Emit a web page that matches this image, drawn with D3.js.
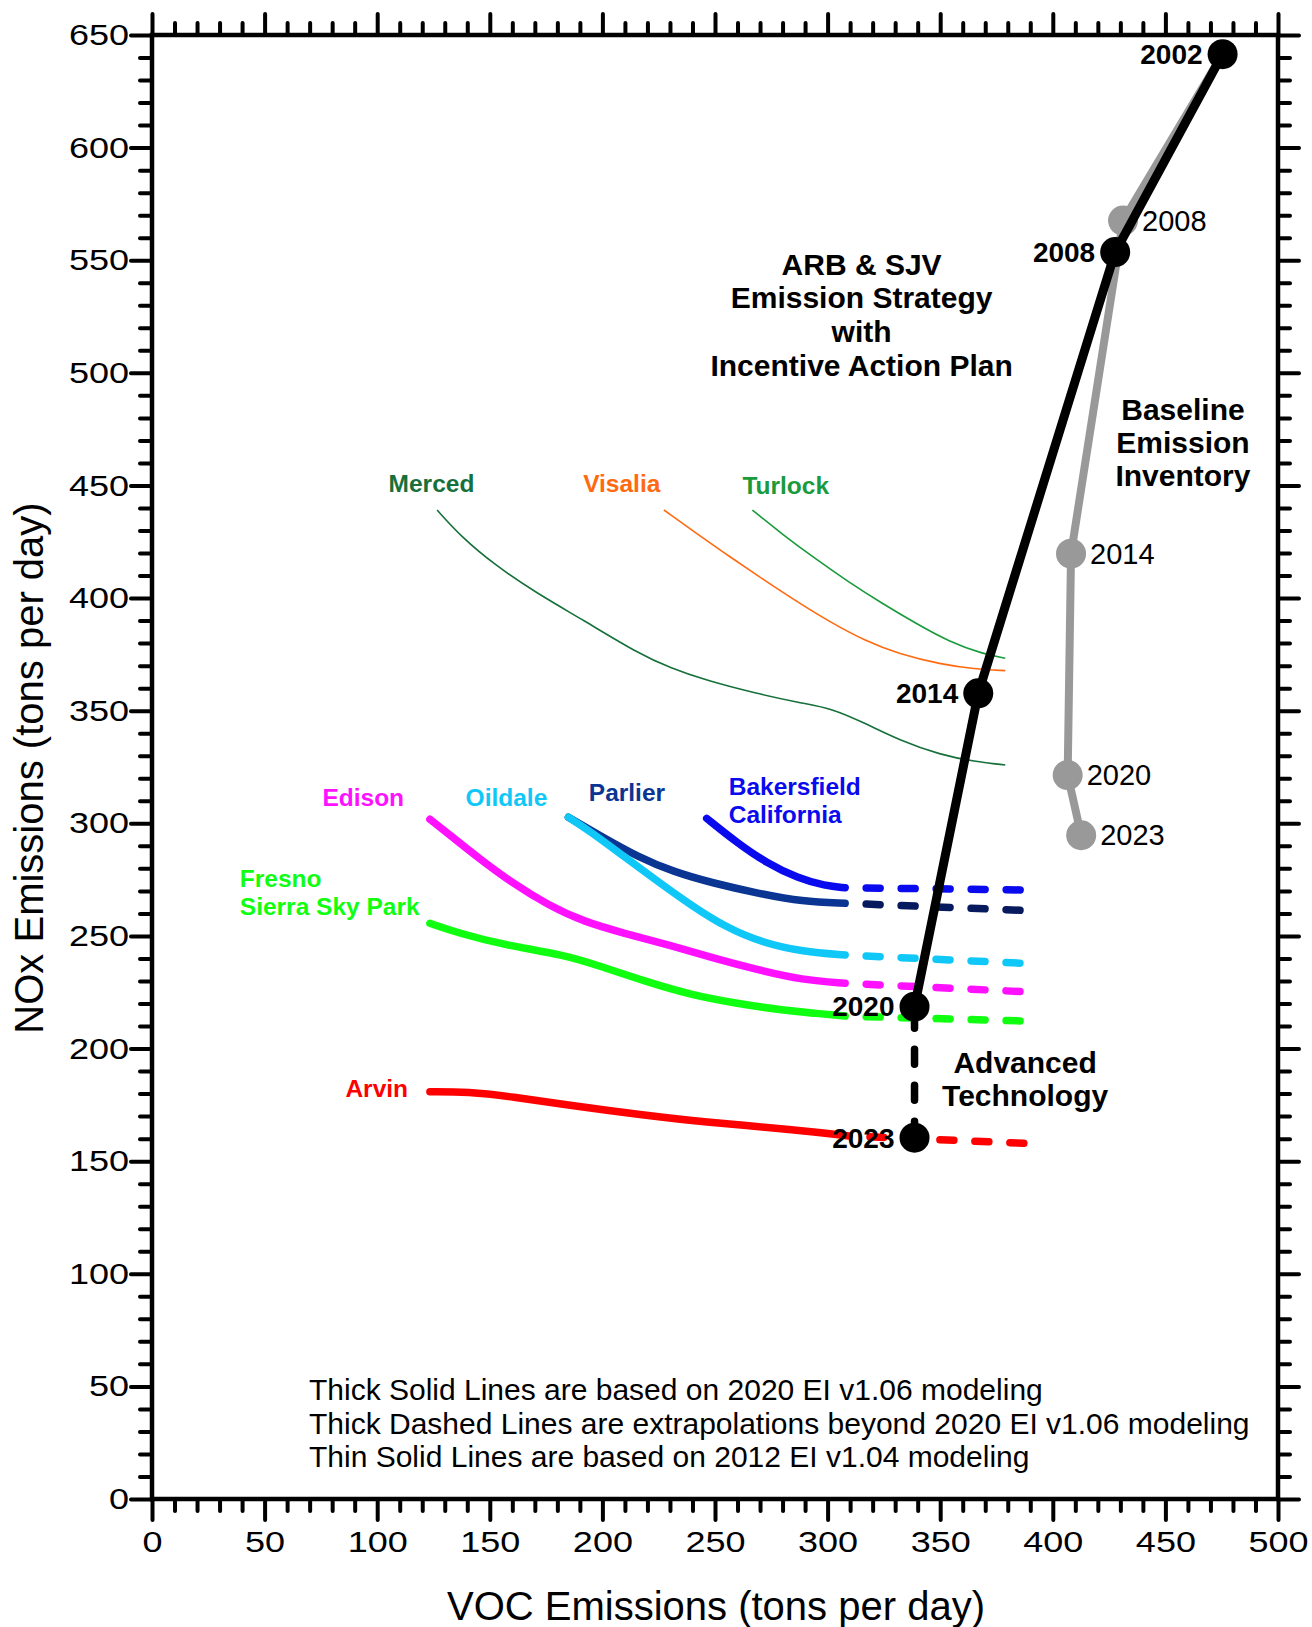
<!DOCTYPE html>
<html>
<head>
<meta charset="utf-8">
<script src="https://cdn.jsdelivr.net/npm/d3@7"></script>
<style>
  body { margin: 0; background: #fff; }
  svg { display: block; font-family: "Liberation Sans", Arial, sans-serif; }
</style>
</head>
<body>
<svg id="chart" width="1312" height="1627"></svg>
<script>
// Axis ticks
const xMajor = [0, 50, 100, 150, 200, 250, 300, 350, 400, 450, 500];
const yMajor = [0, 50, 100, 150, 200, 250, 300, 350, 400, 450, 500, 550, 600, 650];
const minorStep = 10;

// Strategy path (black) and baseline inventory (gray)
const strategyYears = ["2002", "2008", "2014", "2020", "2023"];
const strategyVOC = [475.4, 427.7, 366.9, 338.6, 338.6];
const strategyNOx = [641.5, 553.6, 357.7, 218.6, 160.4];

const baselineYears = ["2002", "2008", "2014", "2020", "2023"];
const baselineVOC = [475.4, 431.2, 408.1, 406.6, 412.6];
const baselineNOx = [641.5, 567.6, 419.7, 321.4, 294.7];

// Thin lines (2012 EI v1.04)
const merced = [[126.6, 439.1], [137.2, 427.3], [152.2, 414.7], [170.9, 402.1], [191.4, 390.3],
  [215.7, 375.5], [230.6, 368.8], [245.6, 363.6], [268.0, 357.7], [288.6, 353.3],
  [301.7, 351.1], [316.7, 344.4], [331.6, 337.0], [350.3, 330.3], [365.2, 327.4], [378.9, 325.9]];
const visalia = [[227.3, 439.1], [241.9, 428.6], [256.8, 418.2], [271.8, 408.0], [286.7, 398.2],
  [301.7, 389.0], [316.7, 381.0], [331.6, 375.2], [350.3, 370.6], [365.2, 368.5], [378.9, 367.8]];
const turlock = [[266.6, 439.1], [279.3, 428.8], [294.2, 417.7], [309.1, 407.3], [324.1, 397.7],
  [339.1, 388.8], [354.0, 380.6], [369.0, 375.2], [378.9, 373.3]];

// Thick lines (2020 EI v1.06)
const bakersfield = [[246.3, 302.2], [259.2, 291.8], [273.1, 282.2], [286.9, 275.6], [298.9, 272.2], [307.8, 271.4]];
const parlier = [[184.9, 302.7], [199.7, 294.1], [215.6, 285.2], [231.4, 278.5], [249.3, 273.4],
  [269.1, 268.9], [288.9, 265.2], [307.8, 264.5]];
const oildale = [[184.9, 302.7], [195.8, 295.6], [209.6, 285.2], [225.5, 273.6], [239.4, 263.6],
  [255.2, 253.6], [271.1, 247.0], [288.9, 243.0], [307.8, 241.5]];
const edison = [[123.4, 301.8], [132.3, 294.8], [144.2, 285.2], [160.1, 273.4], [175.9, 263.7],
  [191.8, 256.3], [209.6, 251.2], [229.5, 246.0], [249.3, 240.1], [269.1, 234.9], [288.9, 230.4], [307.8, 229.0]];
const fresno = [[123.4, 255.6], [136.3, 251.2], [156.1, 246.0], [183.9, 241.5], [199.7, 236.3],
  [219.5, 229.7], [239.4, 223.8], [259.2, 220.1], [279.0, 217.1], [307.8, 214.4]];
const arvin = [[123.4, 180.8], [140.3, 180.8], [160.1, 178.6], [183.9, 174.9], [218.3, 170.5],
  [243.3, 167.5], [287.7, 163.8], [309.5, 161.2]];

// Thick dashed extrapolations
const bakersfieldExt = [[307.8, 271.4], [387.7, 270.4]];
const parlierExt = [[307.8, 264.5], [387.7, 261.3]];
const oildaleExt = [[307.8, 241.5], [387.7, 237.8]];
const edisonExt = [[307.8, 229.0], [387.7, 225.2]];
const fresnoExt = [[307.8, 214.4], [387.7, 212.2]];
const arvinExt = [[309.5, 161.2], [387.7, 157.9]];

const notes = [
  "Thick Solid Lines are based on 2020 EI v1.06 modeling",
  "Thick Dashed Lines are extrapolations beyond 2020 EI v1.06 modeling",
  "Thin Solid Lines are based on 2012 EI v1.04 modeling"
];

const svg = d3.select("#chart");
const x = d3.scaleLinear().domain([0, 500]).range([152, 1278]);
const y = d3.scaleLinear().domain([0, 650]).range([1499, 35]);

const xMinor = d3.range(0, 501, minorStep).filter(v => v % 50 !== 0);
const yMinor = d3.range(0, 651, minorStep).filter(v => v % 50 !== 0);

// Axes: major + minor ticks on all four sides
const labelStretch = 1.2;
function drawAxis(axisFn, scale, transform, values, size, labels) {
  const g = svg.append("g").attr("transform", transform)
    .call(axisFn(scale).tickValues(values).tickSize(size)
      .tickPadding(axisFn === d3.axisBottom ? 11 : 2)
      .tickFormat(labels ? d3.format("d") : ""));
  g.select(".domain").remove();
  g.selectAll(".tick line").attr("stroke", "#000").attr("stroke-width", 4).attr("stroke-linecap", "round");
  g.selectAll(".tick text")
    .attr("font-size", 30).attr("fill", "#000")
    .attr("font-family", "'Liberation Sans', Arial, sans-serif")
    .each(function() {
      const t = d3.select(this);
      t.attr("x", (+t.attr("x") || 0) / labelStretch).attr("transform", `scale(${labelStretch},1)`);
    });
}
drawAxis(d3.axisBottom, x, "translate(0,1499)", xMajor, 21, true);
drawAxis(d3.axisBottom, x, "translate(0,1499)", xMinor, 12, false);
drawAxis(d3.axisTop, x, "translate(0,35)", xMajor, 21, false);
drawAxis(d3.axisTop, x, "translate(0,35)", xMinor, 12, false);
drawAxis(d3.axisLeft, y, "translate(152,0)", yMajor, 21, true);
drawAxis(d3.axisLeft, y, "translate(152,0)", yMinor, 12, false);
drawAxis(d3.axisRight, y, "translate(1278,0)", yMajor, 21, false);
drawAxis(d3.axisRight, y, "translate(1278,0)", yMinor, 12, false);

svg.append("rect")
  .attr("x", x(0)).attr("y", y(650))
  .attr("width", x(500) - x(0)).attr("height", y(0) - y(650))
  .attr("fill", "none").attr("stroke", "#000").attr("stroke-width", 4.5);

// Axis titles
svg.append("text").attr("x", 716).attr("y", 1606).attr("dy", "0.35em")
  .attr("text-anchor", "middle").attr("font-size", 40).text("VOC Emissions (tons per day)");
svg.append("text").attr("transform", "translate(29,768) rotate(-90)").attr("dy", "0.35em")
  .attr("text-anchor", "middle").attr("font-size", 40).text("NOx Emissions (tons per day)");

const curve = d3.line().x(d => x(d[0])).y(d => y(d[1])).curve(d3.curveBasis);
const straight = d3.line().x(d => x(d[0])).y(d => y(d[1]));

// Thin lines
[[merced, "#16703a"], [visalia, "#ff6a10"], [turlock, "#199a3c"]].forEach(([pts, c]) => {
  svg.append("path").attr("d", curve(pts)).attr("fill", "none")
    .attr("stroke", c).attr("stroke-width", 1.6);
});

// Thick solid lines + dashed extrapolations
const thick = [
  [bakersfield, bakersfieldExt, "#0a0aee", "#0a0aee"],
  [parlier, parlierExt, "#0a3592", "#071a5e"],
  [oildale, oildaleExt, "#10c8f8", "#10c8f8"],
  [edison, edisonExt, "#ff10ff", "#ff10ff"],
  [fresno, fresnoExt, "#10ff10", "#10ff10"],
  [arvin, arvinExt, "#ff0000", "#ff0000"]
];
thick.forEach(([pts, ext, c, cd]) => {
  svg.append("path").attr("d", curve(pts)).attr("fill", "none")
    .attr("stroke", c).attr("stroke-width", 7.5).attr("stroke-linecap", "round");
  svg.append("path").attr("d", straight(ext)).attr("fill", "none")
    .attr("stroke", cd).attr("stroke-width", 7.5).attr("stroke-linecap", "round")
    .attr("stroke-dasharray", "14 21").attr("stroke-dashoffset", 14);
});

// Baseline (gray)
const base = baselineVOC.map((v, i) => [v, baselineNOx[i]]);
svg.append("path").attr("d", straight(base)).attr("fill", "none")
  .attr("stroke", "#999").attr("stroke-width", 8).attr("stroke-linejoin", "round");
svg.selectAll(".bdot").data(base.slice(1)).enter().append("circle")
  .attr("cx", d => x(d[0])).attr("cy", d => y(d[1])).attr("r", 15).attr("fill", "#999");
svg.selectAll(".blab").data(base.slice(1)).enter().append("text")
  .attr("x", d => x(d[0]) + 19).attr("y", d => y(d[1])).attr("dy", "0.35em")
  .attr("font-size", 29).text((d, i) => baselineYears[i + 1]);

// Strategy (black)
const strat = strategyVOC.map((v, i) => [v, strategyNOx[i]]);
svg.append("path").attr("d", straight(strat.slice(0, 4))).attr("fill", "none")
  .attr("stroke", "#000").attr("stroke-width", 9).attr("stroke-linejoin", "round");
svg.append("path").attr("d", straight(strat.slice(3))).attr("fill", "none")
  .attr("stroke", "#000").attr("stroke-width", 7.5).attr("stroke-linecap", "round")
  .attr("stroke-dasharray", "15 21").attr("stroke-dashoffset", -6.5);
svg.selectAll(".sdot").data(strat).enter().append("circle")
  .attr("cx", d => x(d[0])).attr("cy", d => y(d[1])).attr("r", 15).attr("fill", "#000");
svg.selectAll(".slab").data(strat).enter().append("text")
  .attr("x", d => x(d[0]) - 20).attr("y", d => y(d[1])).attr("dy", "0.35em")
  .attr("text-anchor", "end").attr("font-size", 28).attr("font-weight", "bold")
  .text((d, i) => strategyYears[i]);

// Site labels
function label(lines, vx, vy, color, anchor) {
  const t = svg.append("text").attr("font-size", 24.5).attr("font-weight", "bold")
    .attr("fill", color).attr("text-anchor", anchor);
  lines.forEach((s, i) => {
    t.append("tspan").attr("x", x(vx)).attr("y", y(vy) + i * 28).attr("dy", "0.35em").text(s);
  });
}
label(["Merced"], 124.1, 451.1, "#16703a", "middle");
label(["Visalia"], 208.6, 450.8, "#ff6a10", "middle");
label(["Turlock"], 281.4, 449.9, "#199a3c", "middle");
label(["Edison"], 93.8, 311.6, "#ff10ff", "middle");
label(["Oildale"], 157.4, 311.6, "#10c8f8", "middle");
label(["Parlier"], 210.9, 313.9, "#0a3592", "middle");
label(["Bakersfield", "California"], 256.1, 316.2, "#0a0aee", "start");
label(["Fresno", "Sierra Sky Park"], 39.0, 275.7, "#10ff10", "start");
label(["Arvin"], 99.8, 182.1, "#ff0000", "middle");

// Block annotations
function block(lines, vx, vy, size, weight, anchor, lh) {
  const t = svg.append("text").attr("font-size", size).attr("font-weight", weight)
    .attr("text-anchor", anchor).attr("fill", "#000");
  lines.forEach((s, i) => {
    t.append("tspan").attr("x", x(vx)).attr("y", y(vy) + i * lh).attr("dy", "0.35em").text(s);
  });
}
block(["ARB & SJV", "Emission Strategy", "with", "Incentive Action Plan"], 315.1, 548.3, 30, "bold", "middle", 33.7);
block(["Baseline", "Emission", "Inventory"], 457.8, 483.9, 30, "bold", "middle", 33);
block(["Advanced", "Technology"], 387.7, 193.6, 30, "bold", "middle", 33);
block(notes, 69.7, 48.4, 30, "normal", "start", 33.5);
</script>
</body>
</html>
